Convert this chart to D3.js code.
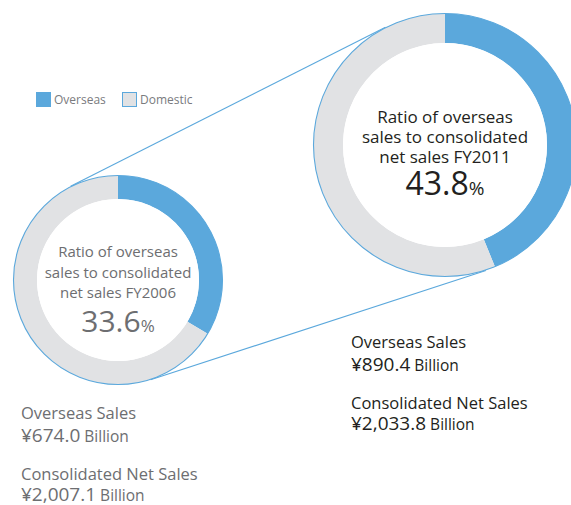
<!DOCTYPE html>
<html><head><meta charset="utf-8">
<script src="https://cdn.jsdelivr.net/npm/d3@7"></script>
<style>
html,body{margin:0;padding:0;background:#fff;}
svg{display:block;}
text{font-family:"Open Sans","Noto Sans",sans-serif;}
</style></head>
<body>
<svg id="chart" width="571" height="505"></svg>
<script>
const categories = ["Overseas", "Domestic"];
const fiscalYears = ["FY2006", "FY2011"];
const overseasRatio = [33.6, 43.8];
const overseasSales = [674.0, 890.4];
const consolidatedSales = [2007.1, 2033.8];
const colors = ["#5ba8dc", "#e1e2e4"];

const svg = d3.select("#chart");
const blue = colors[0], grey = colors[1];

const donuts = [
  {cx:118, cy:280, r:105, ir:81, fs:15, lh:20.5, big:30, pct:17, y0:257, col:"#6d6e71"},
  {cx:445, cy:145, r:132, ir:102, fs:17, lh:20, big:32, pct:19, y0:123, col:"#231f20"}
];

(function(){
  const a = donuts[0], b = donuts[1];
  const dx = b.cx - a.cx, dy = b.cy - a.cy, d = Math.hypot(dx, dy);
  const base = Math.atan2(dy, dx), off = Math.acos(-(b.r - a.r) / d);
  [base + off, base - off].forEach(t => {
    const nx = Math.cos(t), ny = Math.sin(t);
    svg.append("line")
      .attr("x1", a.cx + a.r * nx).attr("y1", a.cy + a.r * ny)
      .attr("x2", b.cx + b.r * nx).attr("y2", b.cy + b.r * ny)
      .attr("stroke", blue).attr("stroke-width", 1.1);
  });
})();

const pie = d3.pie().sort(null).value(d => d);

donuts.forEach((dn, i) => {
  const g = svg.append("g").attr("transform", `translate(${dn.cx},${dn.cy})`);
  const arc = d3.arc().innerRadius(dn.ir).outerRadius(dn.r - 0.5);
  g.selectAll("path").data(pie([overseasRatio[i], 100 - overseasRatio[i]]))
    .join("path").attr("d", arc).attr("fill", (d, j) => colors[j]);
  g.append("circle").attr("r", dn.r - 0.5).attr("fill", "none")
    .attr("stroke", blue).attr("stroke-width", 1.1);
  g.append("circle").attr("r", dn.ir).attr("fill", "#fff");

  const lines = ["Ratio of overseas", "sales to consolidated", "net sales " + fiscalYears[i]];
  lines.forEach((t, k) => {
    svg.append("text").attr("x", dn.cx).attr("y", dn.y0 + k * dn.lh)
      .attr("text-anchor", "middle").attr("font-size", dn.fs).attr("fill", dn.col).text(t);
  });
  const tt = svg.append("text").attr("x", dn.cx).attr("y", dn.y0 + 2 * dn.lh + (i === 0 ? 34 : 32))
    .attr("text-anchor", "middle").attr("fill", dn.col);
  tt.append("tspan").attr("font-size", dn.big).text(d3.format(".1f")(overseasRatio[i]));
  tt.append("tspan").attr("font-size", dn.pct).text("%");
});

const legend = svg.append("g");
[{x:36, label:categories[0], fill:blue, stroke:blue}, {x:122, label:categories[1], fill:grey, stroke:blue}]
.forEach(l => {
  legend.append("rect").attr("x", l.x + 0.5).attr("y", 92.5).attr("width", 14).attr("height", 14)
    .attr("fill", l.fill).attr("stroke", l.stroke).attr("stroke-width", 1);
  legend.append("text").attr("x", l.x + 18).attr("y", 104).attr("font-size", 12)
    .attr("fill", "#7a7b7e").text(l.label);
});

const fmt = d3.format(",.1f");
const blocks = [
  {x:21, y:419, col:"#6d6e71"},
  {x:351, y:348, col:"#231f20"}
];
blocks.forEach((b, i) => {
  const g = svg.append("g").attr("fill", b.col);
  g.append("text").attr("x", b.x).attr("y", b.y).attr("font-size", 16.5).text("Overseas Sales");
  const t1 = g.append("text").attr("x", b.x).attr("y", b.y + 23);
  t1.append("tspan").attr("font-size", 19).text("¥" + fmt(overseasSales[i]));
  t1.append("tspan").attr("font-size", 15.5).text(" Billion");
  g.append("text").attr("x", b.x).attr("y", b.y + 61).attr("font-size", 16.5).text("Consolidated Net Sales");
  const t2 = g.append("text").attr("x", b.x).attr("y", b.y + 82);
  t2.append("tspan").attr("font-size", 19).text("¥" + fmt(consolidatedSales[i]));
  t2.append("tspan").attr("font-size", 15.5).text(" Billion");
});
</script>
</body></html>
